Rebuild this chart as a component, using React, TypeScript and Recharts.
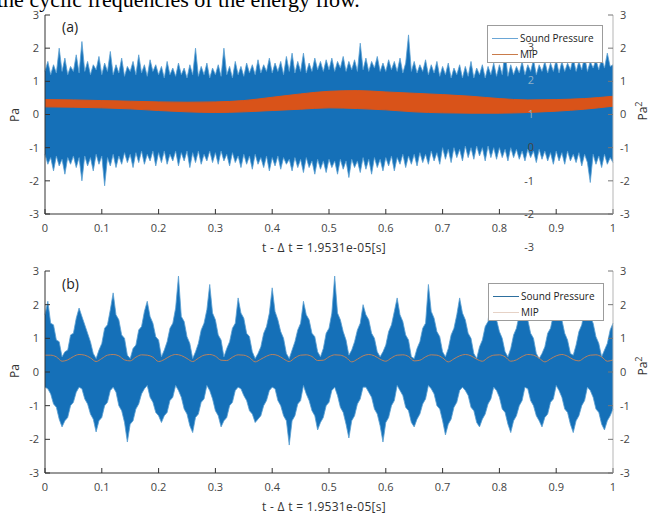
import React from 'react';
import { ComposedChart, Area, Line, XAxis, YAxis } from 'recharts';

const X_TICKS = [0, 0.1, 0.2, 0.3, 0.4, 0.5, 0.6, 0.7, 0.8, 0.9, 1];
const Y_TICKS = [-3, -2, -1, 0, 1, 2, 3];
const SAMPLE_STEP = 0.005;
const MIP_A_STEP = 0.05;
const MIP_B_STEP = 0.01;

// Panel (a): sound pressure envelope (upper / lower), sampled every 0.005
const SP_A_HIGH = [
  1.3, 1.6, 1.2, 1.5, 1.25, 2.0, 1.3, 1.7, 1.2, 1.45, 1.3, 1.8, 1.25, 2.2, 1.3, 1.6, 1.2, 1.5, 1.35, 1.75,
  1.2, 1.55, 1.3, 1.9, 1.2, 1.5, 1.25, 1.7, 1.15, 1.45, 1.3, 1.6, 1.2, 1.8, 1.25, 1.5, 1.15, 1.65, 1.3, 1.5,
  1.2, 1.45, 1.1, 1.6, 1.2, 1.4, 1.15, 1.55, 1.2, 1.4, 1.1, 1.5, 1.2, 2.0, 1.15, 1.45, 1.2, 1.55, 1.1, 1.4,
  1.2, 1.5, 1.15, 2.0, 1.2, 1.45, 1.1, 1.6, 1.2, 1.45, 1.15, 1.55, 1.25, 1.5, 1.2, 1.65, 1.25, 1.5, 1.3, 1.7,
  1.25, 1.55, 1.3, 1.6, 1.2, 1.75, 1.3, 1.85, 1.25, 1.6, 1.3, 1.85, 1.25, 1.55, 1.3, 1.7, 1.35, 1.6, 1.3, 1.65,
  1.35, 1.7, 1.3, 1.6, 1.4, 1.75, 1.3, 1.6, 1.35, 1.65, 1.3, 2.15, 1.35, 1.7, 1.3, 1.6, 1.4, 1.75, 1.3, 1.55,
  1.3, 1.65, 1.35, 1.6, 1.3, 1.7, 1.25, 1.55, 2.4, 1.3, 1.6, 1.25, 1.5, 1.3, 1.65, 1.2, 1.5, 1.25, 1.6, 1.15,
  1.45, 1.2, 1.55, 1.1, 1.4, 1.2, 1.5, 1.1, 1.45, 1.15, 1.6, 1.1, 1.4, 1.2, 1.5, 1.1, 1.45, 1.2, 1.55, 1.15,
  1.5, 1.2, 1.9, 1.15, 1.5, 1.2, 1.45, 1.25, 1.6, 1.2, 1.5, 1.3, 1.65, 1.2, 1.5, 1.3, 1.6, 1.25, 1.55, 1.3,
  1.65, 1.25, 1.6, 1.3, 1.55, 1.35, 1.7, 1.3, 1.6, 1.35, 1.75, 1.3, 1.6, 1.4, 1.65, 1.35, 1.7, 1.4, 1.85, 1.45,
  1.5,
];
const SP_A_LOW = [
  -1.2, -1.5, -1.3, -1.7, -1.25, -1.55, -1.35, -1.8, -1.3, -1.5, -1.25, -1.6, -1.3, -2.0, -1.25, -1.55, -1.3, -1.7, -1.2, -1.5,
  -1.25, -2.15, -1.3, -1.55, -1.2, -1.6, -1.25, -1.5, -1.15, -1.45, -1.2, -1.6, -1.15, -1.45, -1.1, -1.5, -1.2, -1.4, -1.1, -1.55,
  -1.15, -1.45, -1.1, -1.5, -1.2, -1.4, -1.1, -1.55, -1.15, -1.4, -1.1, -1.6, -1.15, -1.45, -1.1, -1.5, -1.2, -1.4, -1.1, -1.45,
  -1.15, -1.5, -1.1, -1.4, -1.2, -1.55, -1.15, -1.45, -1.25, -1.6, -1.2, -1.5, -1.25, -1.65, -1.2, -1.5, -1.3, -1.6, -1.25, -1.7,
  -1.3, -1.55, -1.25, -1.65, -1.3, -1.5, -1.35, -1.7, -1.3, -1.6, -1.35, -1.75, -1.3, -1.6, -1.4, -1.8, -1.35, -1.65, -1.4, -1.75,
  -1.35, -1.6, -1.4, -1.8, -1.35, -1.65, -1.4, -1.9, -1.35, -1.6, -1.4, -1.75, -1.3, -1.65, -1.35, -1.8, -1.3, -1.6, -1.35, -1.7,
  -1.3, -1.55, -1.25, -1.7, -1.3, -1.5, -1.2, -1.6, -1.25, -1.5, -1.2, -1.55, -1.15, -1.45, -1.2, -1.5, -1.1, -1.4, -1.15, -1.5,
  -1.0, -1.35, -1.05, -1.45, -1.0, -1.3, -1.05, -1.4, -0.95, -1.3, -1.0, -1.35, -0.95, -1.25, -1.0, -1.4, -0.95, -1.3, -1.0, -1.35,
  -1.0, -1.3, -1.05, -1.4, -1.0, -1.3, -1.05, -1.35, -1.1, -1.4, -1.05, -1.3, -1.1, -1.45, -1.05, -1.35, -1.1, -1.4, -1.15, -1.5,
  -1.1, -1.4, -1.15, -1.5, -1.1, -1.4, -1.2, -1.45, -1.15, -1.55, -1.2, -1.45, -2.05, -1.2, -1.5, -1.25, -1.6, -1.2, -1.5, -1.3,
  -1.45,
];

// Panel (a): MIP band (upper / lower), every 0.05
const MIP_A_HIGH = [0.45, 0.44, 0.42, 0.4, 0.38, 0.37, 0.38, 0.42, 0.52, 0.62, 0.7, 0.72, 0.68, 0.64, 0.6, 0.55, 0.48, 0.44, 0.45, 0.48, 0.55];
const MIP_A_LOW = [0.23, 0.22, 0.2, 0.17, 0.12, 0.08, 0.06, 0.08, 0.12, 0.16, 0.2, 0.18, 0.14, 0.08, 0.05, 0.04, 0.04, 0.06, 0.1, 0.16, 0.25];

// Panel (b): sound pressure envelope (upper / lower), every 0.005
const SP_B_HIGH = [
  1.7, 2.1, 1.45, 1.4, 0.95, 0.9, 0.45, 0.6, 0.65, 1.1, 1.15, 1.6, 1.9, 1.65, 1.4, 1.15, 0.9, 0.55, 0.4, 0.65,
  0.85, 1.3, 1.4, 1.85, 2.35, 1.7, 1.55, 1.1, 1.0, 0.5, 0.4, 0.7, 0.8, 1.25, 1.35, 1.8, 2.1, 1.65, 1.45, 1.05,
  0.95, 0.45, 0.65, 0.9, 1.3, 1.45, 1.9, 2.85, 1.65, 1.5, 1.05, 0.85, 0.4, 0.6, 0.85, 1.25, 1.45, 1.85, 2.6, 1.75,
  1.55, 1.1, 0.95, 0.45, 0.7, 0.9, 1.3, 1.45, 2.2, 1.75, 1.6, 1.15, 1.05, 0.6, 0.4, 0.55, 0.75, 1.15, 1.35, 1.75,
  2.5, 1.8, 1.55, 1.2, 1.0, 0.55, 0.4, 0.65, 0.9, 1.25, 1.45, 2.1, 1.7, 1.55, 1.15, 1.05, 0.6, 0.45, 0.7, 1.15,
  1.3, 1.75, 2.85, 1.75, 1.55, 1.2, 0.95, 0.5, 0.65, 0.9, 1.25, 1.45, 2.0, 1.7, 1.55, 1.15, 1.0, 0.6, 0.45, 0.6,
  0.8, 1.2, 1.4, 1.8, 2.2, 1.7, 1.5, 1.1, 0.95, 0.45, 0.4, 0.7, 0.9, 1.3, 1.45, 2.6, 1.8, 1.6, 1.2, 1.05,
  0.6, 0.45, 0.7, 1.1, 1.3, 1.7, 2.2, 1.75, 1.55, 1.15, 1.0, 0.55, 0.4, 0.75, 0.95, 1.35, 1.5, 2.3, 1.8, 1.55,
  1.2, 1.0, 0.6, 0.45, 0.7, 1.1, 1.3, 1.7, 2.2, 1.75, 1.55, 1.15, 1.0, 0.55, 0.4, 0.55, 0.75, 1.15, 1.3, 1.7,
  2.2, 1.75, 1.55, 1.15, 0.95, 0.55, 0.5, 0.8, 1.2, 1.4, 1.85, 2.2, 1.65, 1.45, 1.05, 0.85, 0.45, 0.65, 0.85, 1.25,
  1.45,
];
const SP_B_LOW = [
  -0.45, -0.5, -0.65, -0.95, -1.05, -1.4, -1.63, -1.45, -1.35, -1.0, -0.9, -0.6, -0.45, -0.5, -0.8, -0.95, -1.25, -1.4, -1.78, -1.45,
  -1.35, -1.0, -0.9, -0.55, -0.45, -0.6, -1.0, -1.15, -1.5, -2.08, -1.55, -1.45, -1.1, -0.95, -0.65, -0.5, -0.4, -0.75, -0.9, -1.2,
  -1.3, -1.5, -1.3, -1.2, -0.85, -0.75, -0.4, -0.55, -0.75, -1.1, -1.25, -1.6, -1.8, -1.35, -1.25, -0.9, -0.8, -0.4, -0.55, -0.8,
  -1.15, -1.3, -1.63, -1.45, -1.35, -1.0, -0.9, -0.55, -0.45, -0.5, -0.7, -0.85, -1.15, -1.25, -1.5, -1.4, -1.3, -1.0, -0.85, -0.55,
  -0.45, -0.5, -0.85, -1.0, -1.3, -1.45, -2.17, -1.45, -1.3, -0.95, -0.85, -0.4, -0.65, -0.85, -1.15, -1.3, -1.72, -1.5, -1.35, -1.0,
  -0.9, -0.55, -0.45, -0.7, -1.05, -1.2, -1.55, -1.96, -1.45, -1.3, -0.95, -0.8, -0.45, -0.45, -0.6, -0.75, -1.1, -1.25, -1.6, -2.08,
  -1.5, -1.35, -1.0, -0.85, -0.4, -0.55, -0.7, -1.05, -1.15, -1.5, -1.63, -1.4, -1.25, -0.95, -0.8, -0.4, -0.5, -0.65, -1.0, -1.1,
  -1.45, -1.87, -1.55, -1.4, -1.05, -0.9, -0.55, -0.45, -0.55, -0.7, -1.05, -1.15, -1.5, -1.63, -1.4, -1.25, -0.95, -0.8, -0.45, -0.55,
  -0.75, -1.1, -1.2, -1.55, -1.8, -1.45, -1.3, -1.0, -0.85, -0.45, -0.5, -0.85, -1.0, -1.3, -1.45, -1.63, -1.35, -1.25, -0.9, -0.8,
  -0.4, -0.55, -0.75, -1.1, -1.2, -1.55, -1.8, -1.45, -1.3, -1.0, -0.85, -0.45, -0.55, -0.75, -1.1, -1.2, -1.55, -1.72, -1.45, -1.3,
  -1.1,
];

// Panel (b): MIP, every 0.01
const MIP_B = [
  0.5, 0.5, 0.45, 0.32, 0.36, 0.46, 0.52, 0.5, 0.42, 0.31,
  0.4, 0.5, 0.52, 0.48, 0.36, 0.33, 0.44, 0.51, 0.5, 0.44,
  0.31, 0.37, 0.47, 0.52, 0.49, 0.4, 0.31, 0.41, 0.5, 0.52,
  0.47, 0.35, 0.34, 0.44, 0.51, 0.5, 0.43, 0.3, 0.38, 0.47,
  0.52, 0.49, 0.39, 0.31, 0.42, 0.5, 0.51, 0.46, 0.34, 0.35,
  0.45, 0.51, 0.5, 0.43, 0.3, 0.38, 0.48, 0.52, 0.48, 0.38,
  0.32, 0.42, 0.5, 0.51, 0.46, 0.33, 0.35, 0.45, 0.51, 0.5,
  0.42, 0.3, 0.39, 0.48, 0.52, 0.48, 0.38, 0.32, 0.43, 0.5,
  0.51, 0.45, 0.32, 0.36, 0.46, 0.52, 0.5, 0.41, 0.3, 0.39,
  0.48, 0.52, 0.47, 0.37, 0.33, 0.43, 0.5, 0.51, 0.45, 0.32,
  0.36,
];

const STRAY_LABELS = ['3', '2', '1', '0', '-1', '-2', '-3'];
const X_TITLE = 't -  \u0394 t = 1.9531e-05[s]';

const tableA = SP_A_HIGH.map((hi, i) => ({ t: i * SAMPLE_STEP, sp: [SP_A_LOW[i], hi] }));
const mipTableA = MIP_A_HIGH.map((hi, i) => ({ t: i * MIP_A_STEP, band: [MIP_A_LOW[i], hi] }));
const tableB = SP_B_HIGH.map((hi, i) => ({ t: i * SAMPLE_STEP, sp: [SP_B_LOW[i], hi] }));
const mipTableB = MIP_B.map((v, i) => ({ t: i * MIP_B_STEP, v }));

const FONT = '"Open Sans", "Noto Sans", sans-serif';
const BLUE = '#1570b8';
const BLUE_EDGE = '#5a9fd2';
const ORANGE = '#d95319';
const tickStyle = { fill: '#444', fontSize: 11, fontFamily: FONT };

function renderAxes() {
  return [
    <XAxis key="xb" xAxisId="b" dataKey="t" type="number" domain={[0, 1]} ticks={X_TICKS} interval={0}
      tickSize={-5} tickMargin={15} height={30} axisLine={{ stroke: '#333' }} tickLine={{ stroke: '#333' }}
      tick={tickStyle} tickFormatter={(v: number) => String(v)} />,
    <XAxis key="xt" xAxisId="t" orientation="top" dataKey="t" type="number" domain={[0, 1]} ticks={X_TICKS}
      interval={0} tickSize={-5} height={0} axisLine={{ stroke: '#9a9a9a' }} tickLine={{ stroke: '#666' }} tick={false} />,
    <YAxis key="yl" yAxisId="l" domain={[-3, 3]} ticks={Y_TICKS} interval={0} width={45} tickSize={-5} tickMargin={11}
      axisLine={{ stroke: '#333' }} tickLine={{ stroke: '#333' }} tick={tickStyle} type="number" />,
    <YAxis key="yr" yAxisId="r" orientation="right" domain={[-3, 3]} ticks={Y_TICKS} interval={0} width={36} tickSize={-5}
      tickMargin={12} axisLine={{ stroke: '#b5b5b5' }} tickLine={{ stroke: '#777' }} tick={tickStyle} type="number" />,
  ];
}

function Legend({ left, top, spColor, mipColor }: { left: number; top: number; spColor: string; mipColor: string }) {
  const row = (y: number, color: string, text: string) => (
    <div style={{ position: 'absolute', left: 0, top: y - 8, height: 16, width: 114 }}>
      <div style={{ position: 'absolute', left: 4, top: 7.5, width: 26, height: 1.3, background: color }} />
      <div style={{ position: 'absolute', left: 32, top: 0, fontSize: 10, lineHeight: '16px', color: '#222', fontFamily: FONT, whiteSpace: 'nowrap' }}>{text}</div>
    </div>
  );
  return (
    <div style={{ position: 'absolute', left, top, width: 116, height: 38, background: '#fff', border: '1px solid #9c9c9c', boxSizing: 'border-box' }}>
      {row(12, spColor, 'Sound Pressure')}
      {row(28, mipColor, 'MIP')}
    </div>
  );
}

export default function App() {
  return (
    <div style={{ position: 'fixed', left: 0, top: 0, width: 649, height: 515, background: '#fff', overflow: 'hidden' }}>
      <div style={{ position: 'absolute', left: -3, top: -15, fontFamily: '"Liberation Serif", serif', fontSize: 22, lineHeight: '30px', whiteSpace: 'nowrap', color: '#000' }}>
        the cyclic frequencies of the energy flow.
      </div>

      <div style={{ position: 'absolute', left: 0, top: 0 }}>
        <ComposedChart width={649} height={258} data={tableA} margin={{ top: 15, right: 0, bottom: 14, left: 0 }}>
          {renderAxes()}
          <Area xAxisId="b" yAxisId="l" dataKey="sp" type="linear" stroke={BLUE_EDGE} strokeWidth={0.8}
            fill={BLUE} fillOpacity={1} isAnimationActive={false} dot={false} activeDot={false} />
          <Area xAxisId="b" yAxisId="r" data={mipTableA} dataKey="band" type="monotone" stroke={ORANGE} strokeWidth={1}
            fill={ORANGE} fillOpacity={1} isAnimationActive={false} dot={false} activeDot={false} />
        </ComposedChart>
      </div>

      <div style={{ position: 'absolute', left: 0, top: 256 }}>
        <ComposedChart width={649} height={261} data={tableB} margin={{ top: 15, right: 0, bottom: 14, left: 0 }}>
          {renderAxes()}
          <Area xAxisId="b" yAxisId="l" dataKey="sp" type="linear" stroke={BLUE_EDGE} strokeWidth={0.8}
            fill={BLUE} fillOpacity={1} isAnimationActive={false} dot={false} activeDot={false} />
          <Line xAxisId="b" yAxisId="r" data={mipTableB} dataKey="v" type="monotone" stroke="#b9825f" strokeWidth={1}
            dot={false} activeDot={false} isAnimationActive={false} />
        </ComposedChart>
      </div>

      <Legend left={487} top={25} spColor="#6aa6d6" mipColor="#c97b4a" />
      <Legend left={488} top={283} spColor="#2d6f9e" mipColor="#e6d2c6" />

      <svg width={649} height={515} style={{ position: 'absolute', left: 0, top: 0, pointerEvents: 'none' }}>
        <g fontFamily={FONT} fill="#222">
          <text x={62} y={32} fontSize={14}>(a)</text>
          <text x={62} y={289} fontSize={14}>(b)</text>
          <text x={324} y={252} fontSize={12} textAnchor="middle" fill="#333" letterSpacing={0.3}>{X_TITLE}</text>
          <text x={324} y={511} fontSize={12} textAnchor="middle" fill="#333" letterSpacing={0.3}>{X_TITLE}</text>
          <text transform="translate(19,115) rotate(-90)" fontSize={12} textAnchor="middle" fill="#333">Pa</text>
          <text transform="translate(19,371) rotate(-90)" fontSize={12} textAnchor="middle" fill="#333">Pa</text>
          <text transform="translate(647,111) rotate(-90)" fontSize={12} textAnchor="middle" fill="#333">Pa<tspan dy={-5} fontSize={9}>2</tspan></text>
          <text transform="translate(647,366) rotate(-90)" fontSize={12} textAnchor="middle" fill="#333">Pa<tspan dy={-5} fontSize={9}>2</tspan></text>
          {STRAY_LABELS.map((s, i) => (
            <text key={s} x={534} y={51 + i * 33.4} fontSize={11} textAnchor="end"
              fill={s === '2' || s === '1' ? '#8fb0c8' : '#444'}>{s}</text>
          ))}
        </g>
      </svg>
    </div>
  );
}
